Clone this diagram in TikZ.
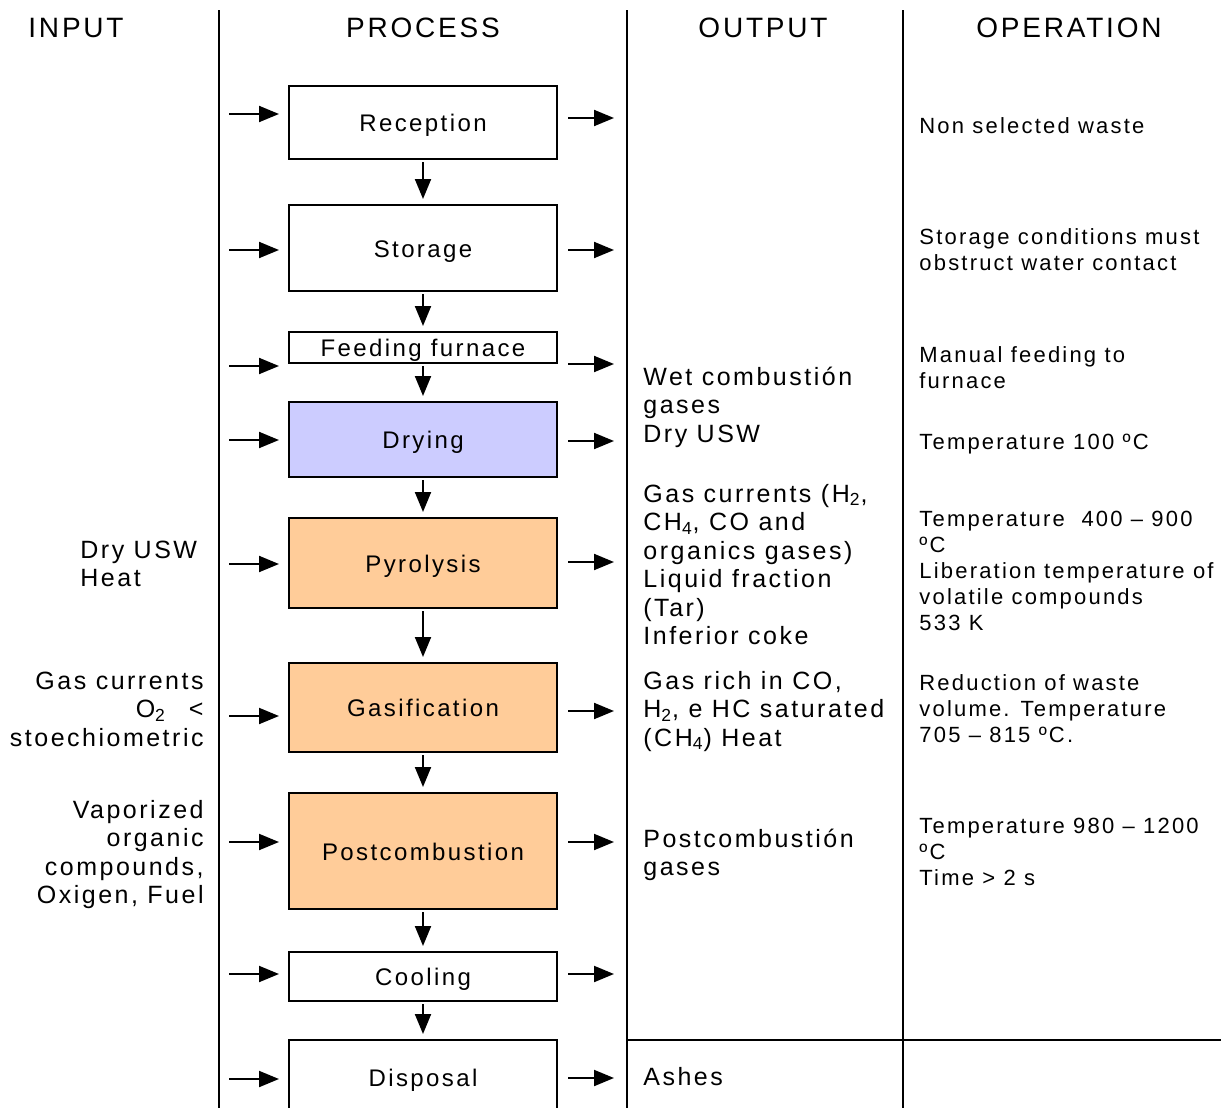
\documentclass[tikz,border=0pt]{standalone}
\usepackage{fontspec}
\setmainfont{Liberation Sans}[LetterSpace=10]
\usetikzlibrary{arrows.meta}
\definecolor{dryblue}{HTML}{CCCCFF}
\definecolor{orng}{HTML}{FFCC99}
\begin{document}
\begin{tikzpicture}[x=0.5pt,y=-0.5pt,
  box/.style={draw, line width=1pt, inner sep=0pt, minimum width=134pt, text height=11pt, text depth=2pt, font=\fontsize{12}{14}\selectfont},
  arr/.style={line width=1pt, -{Triangle[length=10pt,width=8pt]}},
  hdr/.style={font=\fontsize{14}{16}\selectfont, inner sep=0pt, anchor=base},
  outtxt/.style={font=\fontsize{12.5}{14.25}\selectfont, inner sep=0pt, anchor=base west, align=left},
  optxt/.style={font=\fontsize{11}{13}\selectfont, inner sep=0pt, anchor=base west, align=left},
  intxt/.style={font=\fontsize{12.5}{14.25}\selectfont, inner sep=0pt, anchor=base east, align=right},
  rulel/.style={line width=1pt}]
\useasboundingbox (0,0) rectangle (1221,1108);
\clip (0,0) rectangle (1221,1108);
\fill[white] (0,0) rectangle (1221,1108);

% column rules
\draw[rulel] (219,10) -- (219,1108);
\draw[rulel] (627,10) -- (627,1108);
\draw[rulel] (903,10) -- (903,1108);
\draw[rulel] (627,1040) -- (1221,1040);

% headers
\node[hdr, anchor=base west] (hin) at (28,38) {INPUT};
\node[hdr] (hpr) at (423,38) {PROCESS};
\node[hdr] (hout) at (763,38) {OUTPUT};
\node[hdr] (hop) at (1069,38) {OPERATION};

% process boxes
\node[box, minimum height=36.5pt] (rec) at (423,122.5) {Reception};
\node[box, minimum height=43pt] (sto) at (423,248) {Storage};
\node[box, minimum height=15.5pt] (fee) at (423,347.5) {Feeding furnace};
\node[box, minimum height=37.5pt, fill=dryblue] (dry) at (423,439.5) {Drying};
\node[box, minimum height=45pt, fill=orng] (pyr) at (423,563) {Pyrolysis};
\node[box, minimum height=44.5pt, fill=orng] (gas) at (423,707.5) {Gasification};
\node[box, minimum height=58pt, fill=orng] (pos) at (423,851) {Postcombustion};
\node[box, minimum height=24.5pt] (coo) at (423,976.5) {Cooling};
\node[box, minimum height=37pt] (dis) at (423,1077) {Disposal};

% downward flow
\foreach \a/\b in {rec/sto, sto/fee, fee/dry, dry/pyr, pyr/gas, gas/pos, pos/coo, coo/dis}
  \draw[arr, shorten <=1pt, shorten >=2.5pt] (\a.south) -- (\b.north);

% input arrows
\coordinate (i1) at (229,114);
\coordinate (i2) at (229,250);
\coordinate (i3) at (229,366);
\coordinate (i4) at (229,440);
\coordinate (i5) at (229,564);
\coordinate (i6) at (229,716);
\coordinate (i7) at (229,842);
\coordinate (i8) at (229,974);
\coordinate (i9) at (229,1079);
\foreach \c/\n in {i1/rec, i2/sto, i3/fee, i4/dry, i5/pyr, i6/gas, i7/pos, i8/coo, i9/dis}
  \draw[arr, shorten >=4.5pt] (\c) -- (\c -| \n.west);

% output arrows
\coordinate (o1) at (614,118);
\coordinate (o2) at (614,250);
\coordinate (o3) at (614,364);
\coordinate (o4) at (614,441);
\coordinate (o5) at (614,562);
\coordinate (o6) at (614,711);
\coordinate (o7) at (614,842);
\coordinate (o8) at (614,974);
\coordinate (o9) at (614,1078);
\foreach \c/\n in {o1/rec, o2/sto, o3/fee, o4/dry, o5/pyr, o6/gas, o7/pos, o8/coo, o9/dis}
  \draw[arr, shorten <=5pt] (\c -| \n.east) -- (\c);

% input texts (anchor = baseline of last line)
\node[outtxt] (inpyr) at (80,586.5) {Dry USW\\Heat};
\node[intxt] (ingas) at (204,746) {Gas currents\\O\textsubscript{2}~~\,<\\stoechiometric};
\node[intxt] (inpos) at (204,903.5) {Vaporized\\organic\\compounds,\\Oxigen, Fuel};

% output texts
\node[outtxt] (outdry) at (643,442) {Wet combustión\\gases\\Dry USW};
\node[outtxt] (outpyr) at (643,644.5) {Gas currents (H\textsubscript{2},\\CH\textsubscript{4}, CO and\\organics gases)\\Liquid fraction\\(Tar)\\Inferior coke};
\node[outtxt] (outgas) at (643,746) {Gas rich in CO,\\H\textsubscript{2}, e HC saturated\\(CH\textsubscript{4}) Heat};
\node[outtxt] (outpos) at (643,875.5) {Postcombustión\\gases};
\node[outtxt] (outdis) at (643,1085) {Ashes};

% operation texts
\node[optxt] (oprec) at (919,133) {Non selected waste};
\node[optxt] (opsto) at (919,270) {Storage conditions must\\obstruct water contact};
\node[optxt] (opfee) at (919,388) {Manual feeding to\\furnace};
\node[optxt] (opdry) at (919,449) {Temperature 100 ºC};
\node[optxt] (oppyr) at (919,630) {Temperature~ 400 – 900\\ºC\\Liberation temperature of\\volatile compounds\\533 K};
\node[optxt] (opgas) at (919,742) {Reduction of waste\\volume. Temperature\\705 – 815 ºC.};
\node[optxt] (oppos) at (919,885) {Temperature 980 – 1200\\ºC\\Time > 2 s};
\end{tikzpicture}
\end{document}
